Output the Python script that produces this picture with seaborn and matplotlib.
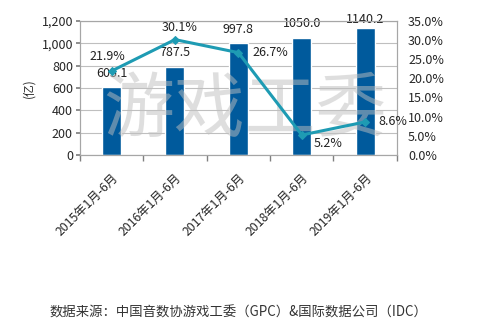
import matplotlib
matplotlib.use("Agg")
import matplotlib.pyplot as plt
import seaborn as sns
import pandas as pd
from matplotlib.ticker import FuncFormatter, MultipleLocator

categories = ["2015年1月-6月", "2016年1月-6月", "2017年1月-6月", "2018年1月-6月", "2019年1月-6月"]
revenue = [605.1, 787.5, 997.8, 1050.0, 1140.2]
growth = [21.9, 30.1, 26.7, 5.2, 8.6]

sns.set_theme(style="white")
plt.rcParams['font.family'] = ['Noto Sans CJK SC', 'DejaVu Sans']

df = pd.DataFrame({"cat": categories, "rev": revenue, "gr": growth})

fig = plt.figure(figsize=(4.87, 3.36), dpi=100)
ax = fig.add_axes([0.164, 0.539, 0.651, 0.399])
bar_color = "#005a9c"
line_color = "#1e9bb3"

sns.barplot(data=df, x="cat", y="rev", ax=ax, color=bar_color, width=0.3, saturation=1, zorder=2)
ax.set_ylim(0, 1200)
ax.yaxis.set_major_locator(MultipleLocator(200))
ax.yaxis.set_major_formatter(FuncFormatter(lambda v, p: f"{int(v):,}"))
ax.grid(axis="y", color="#bfbfbf", linewidth=0.8, zorder=0)
ax.set_axisbelow(True)
ax.set_xlim(-0.5, 4.5)
ax.set_xlabel("")
ax.set_ylabel("(亿)", fontsize=8.5, labelpad=4)
ax.tick_params(axis="y", labelsize=9, pad=2, left=True, length=3, color="#808080")
ax.tick_params(axis="x", labelsize=8.8, pad=6)
for s in ax.spines.values():
    s.set_color("#a6a6a6")
    s.set_linewidth(0.8)
ax.set_xticks(range(len(categories)))
ax.set_xticklabels(categories, rotation=45, ha="right", rotation_mode="anchor")
ax.set_xticks([i + 0.5 for i in range(-1, len(categories))], minor=True)
ax.tick_params(axis="x", which="minor", bottom=True, length=4, color="#808080")
ax.tick_params(axis="x", which="major", bottom=False)

for i, v in enumerate(revenue):
    ax.text(i, min(v + 125, 1210), f"{v:.1f}", ha="center", va="center", fontsize=9, color="#222222", zorder=5)

# watermark (above bars, below line)
ax.text(0.503, 0.67, "游戏工委", transform=fig.transFigure, fontsize=51, color="#bfbfbf", alpha=0.5,
        ha="center", va="center", zorder=10, clip_on=False)

ax2 = ax.twinx()
sns.lineplot(data=df, x="cat", y="gr", ax=ax2, color=line_color, linewidth=2.2,
             marker="D", markersize=4, markeredgecolor=line_color, sort=False, zorder=4)
ax2.set_ylim(0, 35)
ax2.yaxis.set_major_locator(MultipleLocator(5))
ax2.yaxis.set_major_formatter(FuncFormatter(lambda v, p: f"{v:.1f}%"))
ax2.tick_params(axis="y", labelsize=9, pad=2, right=False)
ax2.set_ylabel("")
ax2.set_xlim(-0.5, 4.5)
for s in ax2.spines.values():
    s.set_color("#a6a6a6")
    s.set_linewidth(0.8)

offsets = [(-0.06, 3.7), (0.07, 3.1), (0.5, 0.0), (0.42, -2.2), (0.43, 0.1)]
for i, g in enumerate(growth):
    dx, dy = offsets[i]
    ax2.text(i + dx, g + dy, f"{g:.1f}%", ha="center", va="center", fontsize=9, color="#222222", zorder=6)

fig.text(0.49, 0.071, "数据来源：中国音数协游戏工委（GPC）&国际数据公司（IDC）",
         fontsize=9.6, color="#333333", ha="center", va="center")

fig.savefig("out.png", dpi=100)
